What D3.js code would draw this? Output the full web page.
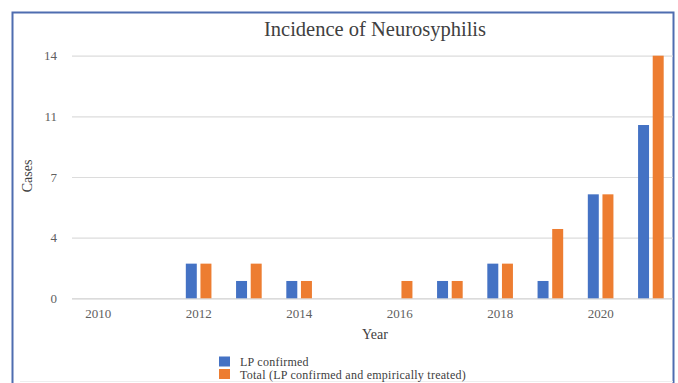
<!DOCTYPE html>
<html>
<head>
<meta charset="utf-8">
<script src="https://cdn.jsdelivr.net/npm/d3@7"></script>
<style>
  html, body { margin: 0; padding: 0; background: #fff; }
  svg { display: block; }
  text { font-family: "Liberation Serif", "Times New Roman", serif; }
</style>
</head>
<body>
<svg id="chart" width="678" height="383"></svg>
<script>
// ---- data ----
const years = ["2010","2011","2012","2013","2014","2015","2016","2017","2018","2019","2020","2021"];
const xTickLabels = ["2010","2012","2014","2016","2018","2020"];
const lpConfirmed = [0, 0, 2, 1, 1, 0, 0, 1, 2, 1, 6, 10];
const totalCases  = [0, 0, 2, 2, 1, 0, 1, 1, 2, 4, 6, 14];
const yTickValues = [0, 3.5, 7, 10.5, 14];
const yTickLabels = ["0", "4", "7", "11", "14"];
const seriesNames = ["LP confirmed", "Total (LP confirmed and empirically treated)"];
const seriesColors = ["#4472C4", "#ED7D31"];

const svg = d3.select("#chart");

// frame
svg.append("rect")
  .attr("x", 12.5).attr("y", 12.5)
  .attr("width", 661).attr("height", 400)
  .attr("fill", "#fff")
  .attr("stroke", "#4f6db0").attr("stroke-width", 2);

svg.append("line")
  .attr("x1", 20).attr("x2", 673).attr("y1", 381.5).attr("y2", 381.5)
  .attr("stroke", "#eeeeee").attr("stroke-width", 1);

const plotLeft = 73, plotRight = 676, plotTop = 55.7, plotBottom = 298.3;

const x = d3.scaleBand().domain(years).range([plotLeft, plotRight]).paddingInner(0.49).paddingOuter(0.245);
const x1 = d3.scaleBand().domain([0, 1]).range([0, x.bandwidth()]).paddingInner(0.25);
const y = d3.scaleLinear().domain([0, 14]).range([plotBottom, plotTop]);

// gridlines
const yAxis = d3.axisLeft(y)
  .tickValues(yTickValues)
  .tickSize(-(673 - 72))
  .tickPadding(15)
  .tickFormat((d, i) => yTickLabels[i]);

const gy = svg.append("g").attr("transform", `translate(72,0)`).call(yAxis);
gy.select(".domain").remove();
gy.selectAll(".tick line").attr("stroke", (d) => d === 0 ? "#cfcfcf" : "#dcdcdc").attr("stroke-width", 1.2);
gy.selectAll(".tick text")
  .attr("fill", "#606060")
  .style("font-size", "13px")
  .style("font-family", "'Liberation Serif', serif");

// bars
const data = years.map((yr, i) => ({ year: yr, vals: [lpConfirmed[i], totalCases[i]] }));
const groups = svg.append("g").selectAll("g")
  .data(data).join("g")
  .attr("transform", d => `translate(${x(d.year)},0)`);
groups.selectAll("rect")
  .data(d => d.vals.map((v, k) => ({ k, v })).filter(e => e.v > 0))
  .join("rect")
  .attr("x", e => x1(e.k))
  .attr("width", x1.bandwidth())
  .attr("y", e => y(e.v))
  .attr("height", e => y(0) - y(e.v))
  .attr("fill", e => seriesColors[e.k]);

// x axis labels
const xAxis = d3.axisBottom(x).tickValues(xTickLabels).tickSize(0).tickPadding(10);
const gx = svg.append("g").attr("transform", `translate(0,${plotBottom})`).call(xAxis);
gx.select(".domain").remove();
gx.selectAll(".tick text")
  .attr("fill", "#606060")
  .style("font-size", "13px")
  .style("font-family", "'Liberation Serif', serif");

// title
svg.append("text")
  .attr("x", 375).attr("y", 36)
  .attr("text-anchor", "middle")
  .attr("fill", "#404040")
  .style("font-size", "20.5px")
  .text("Incidence of Neurosyphilis");

// axis titles
svg.append("text")
  .attr("x", 375).attr("y", 339)
  .attr("text-anchor", "middle")
  .attr("fill", "#404040")
  .style("font-size", "14px")
  .text("Year");

svg.append("text")
  .attr("transform", "translate(32,176) rotate(-90)")
  .attr("text-anchor", "middle")
  .attr("fill", "#404040")
  .style("font-size", "14px")
  .text("Cases");

// legend
const lg = svg.append("g");
seriesNames.forEach((name, i) => {
  lg.append("rect")
    .attr("x", 219).attr("y", 356.5 + i * 12.5)
    .attr("width", 11).attr("height", 10)
    .attr("fill", seriesColors[i]);
  lg.append("text")
    .attr("x", 240).attr("y", 365.5 + i * 13)
    .attr("fill", "#404040")
    .style("font-size", "12px")
    .style("letter-spacing", "0.25px")
    .text(name);
});
</script>
</body>
</html>
